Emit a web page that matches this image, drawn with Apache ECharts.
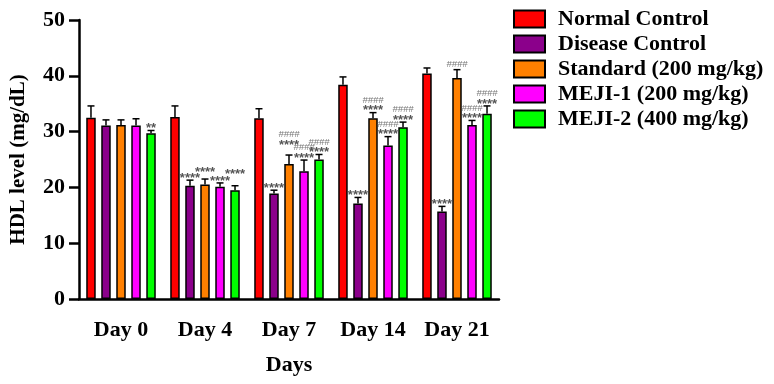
<!DOCTYPE html>
<html>
<head>
<meta charset="utf-8">
<script src="https://cdn.jsdelivr.net/npm/echarts@6/dist/echarts.min.js"></script>
<style>html,body{margin:0;padding:0;background:#fff}#c{width:774px;height:384px}</style>
</head>
<body>
<div id="c"></div>
<script>
// ---- data ----
const categories = ['Day 0', 'Day 4', 'Day 7', 'Day 14', 'Day 21'];
const seriesNames = ['Normal Control', 'Disease Control', 'Standard (200 mg/kg)', 'MEJI-1 (200 mg/kg)', 'MEJI-2 (400 mg/kg)'];
const normalControl   = [32.5, 32.6, 32.4, 38.4, 40.4];
const diseaseControl  = [31.1, 20.3, 18.9, 17.1, 15.7];
const standard        = [31.2, 20.5, 24.2, 32.4, 39.6];
const meji1           = [31.1, 20.1, 22.9, 27.5, 31.2];
const meji2           = [29.7, 19.5, 25.0, 30.8, 33.2];
const normalControlErr  = [2.1, 2.0, 1.7, 1.4, 1.0];
const diseaseControlErr = [1.0, 1.0, 0.6, 1.1, 0.9];
const standardErr       = [0.9, 1.0, 1.6, 1.0, 1.5];
const meji1Err          = [1.2, 0.7, 2.0, 1.6, 0.8];
const meji2Err          = [0.5, 0.8, 0.9, 0.9, 1.4];
// significance marks vs normal control (stars) and vs disease control (hashes)
const normalControlStars  = ['', '', '', '', ''];
const diseaseControlStars = ['', '****', '****', '****', '****'];
const standardStars       = ['', '****', '****', '****', ''];
const meji1Stars          = ['', '****', '****', '****', '****'];
const meji2Stars          = ['**', '****', '****', '****', '****'];
const normalControlHash  = ['', '', '', '', ''];
const diseaseControlHash = ['', '', '', '', ''];
const standardHash       = ['', '', '####', '####', '####'];
const meji1Hash          = ['', '', '####', '####', '####'];
const meji2Hash          = ['', '', '####', '####', '####'];
const yTicks = [0, 10, 20, 30, 40, 50];

// ---- styles ----
const colors = ['#ff0000', '#8b008b', '#ff8000', '#ff00ff', '#00ff00'];
const values = [normalControl, diseaseControl, standard, meji1, meji2];
const errs = [normalControlErr, diseaseControlErr, standardErr, meji1Err, meji2Err];
const stars = [normalControlStars, diseaseControlStars, standardStars, meji1Stars, meji2Stars];
const hashes = [normalControlHash, diseaseControlHash, standardHash, meji1Hash, meji2Hash];
const BAR_W = 9.5, BAR_GAP = 0.58;
// extra lift (px) of some marks to avoid overlaps: key "series,category"
const labelLift = {'2,1': 5, '4,1': 9, '2,2': 8};
const FONT = '"Liberation Serif", "Times New Roman", serif';

const barSeries = seriesNames.map((name, i) => ({
  name, type: 'bar', data: values[i], barWidth: BAR_W, barGap: (BAR_GAP * 100) + '%',
  itemStyle: { color: colors[i], borderColor: '#000', borderWidth: 1.5 },
  z: 2
}));

const errData = [];
values.forEach((vals, s) => vals.forEach((v, c) => errData.push([c, v, errs[s][c], s])));

const errSeries = {
  type: 'custom', name: 'err', data: errData, z: 5, silent: true,
  encode: { x: 0, y: 1 },
  renderItem: function (params, api) {
    const c = api.value(0), v = api.value(1), e = api.value(2), s = api.value(3);
    const pitch = BAR_W * (1 + BAR_GAP);
    const base = api.coord([c, v]);
    const x = base[0] + (s - 2) * pitch;
    const yTop = api.coord([c, v + e])[1];
    const yBar = base[1];
    const cap = 3.5;
    const children = [
      { type: 'line', shape: { x1: x, y1: yBar, x2: x, y2: yTop }, style: { stroke: '#000', lineWidth: 1.5 } },
      { type: 'line', shape: { x1: x - cap, y1: yTop, x2: x + cap, y2: yTop }, style: { stroke: '#000', lineWidth: 1.5 } }
    ];
    const lift = labelLift[s + ',' + c] || 0;
    let ty = yTop - 5 - lift;
    const st = stars[s][c], hs = hashes[s][c];
    if (st) {
      children.push({ type: 'text', style: { text: st, x: x, y: ty + 3, fill: '#555', font: 'bold 13px "Liberation Sans", Arial, sans-serif', align: 'center', verticalAlign: 'middle' } });
      ty -= 7.5;
    }
    if (hs) {
      children.push({ type: 'text', style: { text: hs, x: x, y: ty, fill: '#777', font: 'italic 9.5px "Liberation Sans", Arial, sans-serif', align: 'center', verticalAlign: 'middle' } });
    }
    return { type: 'group', children };
  }
};

const chart = echarts.init(document.getElementById('c'), null, { renderer: 'canvas' });
chart.setOption({
  animation: false,
  backgroundColor: '#fff',
  grid: { left: 76, right: 275, top: 20, bottom: 85, containLabel: false },
  legend: {
    data: seriesNames, orient: 'vertical', left: 513, top: 8, padding: 0,
    itemWidth: 31, itemHeight: 17, itemGap: 3, icon: 'rect',
    textStyle: { fontFamily: FONT, fontWeight: 'bold', fontSize: 22, color: '#000', padding: [0, 0, 0, 8], lineHeight: 22 },
    selectedMode: false
  },
  xAxis: {
    type: 'category', data: categories,
    name: 'Days', nameLocation: 'middle', nameGap: 55,
    nameTextStyle: { fontFamily: FONT, fontWeight: 'bold', fontSize: 22, color: '#000' },
    axisLine: { lineStyle: { color: '#000', width: 2.5 } },
    axisTick: { alignWithLabel: true, length: 12, lineStyle: { color: '#000', width: 2.5 } },
    axisLabel: { fontFamily: FONT, fontWeight: 'bold', fontSize: 22, color: '#000', margin: 20, interval: 0, hideOverlap: false }
  },
  yAxis: {
    type: 'value', min: yTicks[0], max: yTicks[yTicks.length - 1], interval: 10,
    name: 'HDL level (mg/dL)', nameLocation: 'middle', nameGap: 50, nameRotate: 90,
    nameTextStyle: { fontFamily: FONT, fontWeight: 'bold', fontSize: 21, color: '#000' },
    axisLine: { show: true, lineStyle: { color: '#000', width: 2.5 } },
    axisTick: { show: true, length: 10, lineStyle: { color: '#000', width: 2.5 } },
    axisLabel: { fontFamily: FONT, fontWeight: 'bold', fontSize: 22, color: '#000', margin: 14 },
    splitLine: { show: false }
  },
  series: barSeries.concat([errSeries])
});
</script>
</body>
</html>
